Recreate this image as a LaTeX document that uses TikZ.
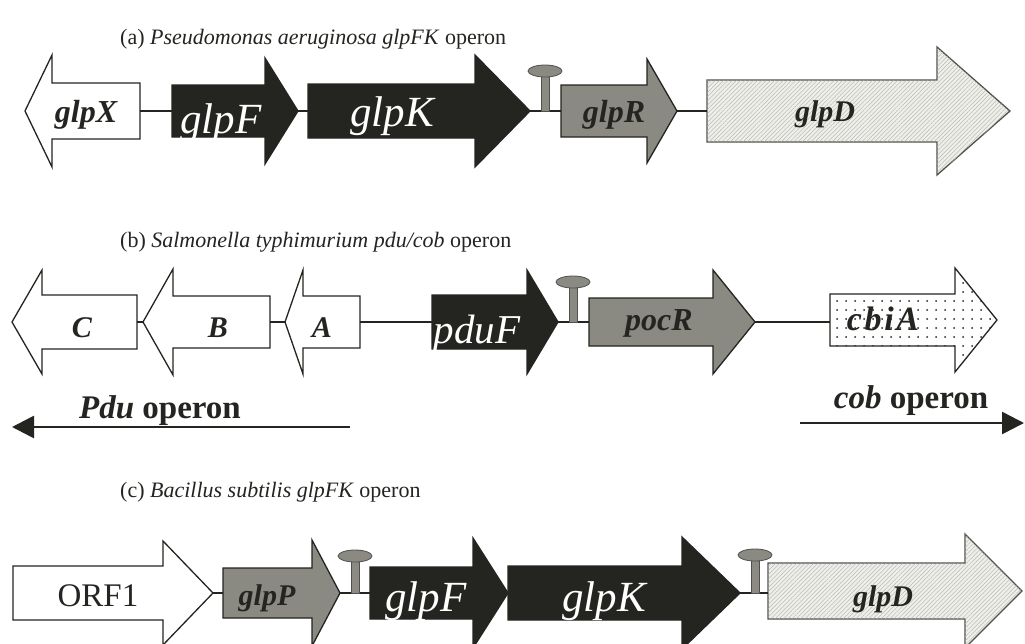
\documentclass[tikz,border=0pt]{standalone}
\usepackage{fontspec}
\setmainfont{Liberation Serif}
\usetikzlibrary{patterns.meta,arrows.meta}
\definecolor{ink}{RGB}{36,36,32}
\definecolor{midg}{RGB}{138,138,130}
\definecolor{lightg}{RGB}{238,238,234}
\definecolor{hatchc}{RGB}{175,175,168}
\newcommand\genearrow[8]{%
  \path[#2] (#3,#6-#7) -- (#4,#6-#7) -- (#4,#6-#8) -- (#5,#6) -- (#4,#6+#8) -- (#4,#6+#7) -- (#3,#6+#7) -- cycle;
  \coordinate (#1-tail) at (#3,#6);
  \coordinate (#1-tip) at (#5,#6);}
\newcommand\termin[4]{%
  \coordinate (#1) at (#2,#3);
  \path[termst] (#2-4,#3) rectangle (#2+4,#4);
  \path[termst] (#2,#4) ellipse [x radius=17pt, y radius=6pt];}
\tikzset{
  gene/.style={draw=ink, line width=1.3pt, line join=miter},
  whitegene/.style={gene, fill=white},
  blackgene/.style={gene, fill=ink},
  greygene/.style={gene, fill=midg},
  hatchgene/.style={gene, draw=ink!80, fill=lightg, postaction={pattern={Lines[angle=45,distance=3pt,line width=0.35pt]}, pattern color=hatchc}},
  dotgene/.style={gene, fill=white, postaction={pattern={Dots[distance=9pt,radius=1pt]}, pattern color=ink}},
  termst/.style={draw=ink!80, line width=0.8pt, fill=midg},
  conn/.style={draw=ink, line width=1.3pt},
  opar/.style={draw=ink, line width=2.6pt, -{Triangle[length=22pt,width=22pt]}},
  lab/.style={anchor=base, inner sep=0pt, text=ink, font=\fontsize{32}{34}\selectfont\bfseries\itshape},
  wlab/.style={anchor=base, inner sep=0pt, text=white, font=\fontsize{43}{45}\selectfont\itshape},
  ttl/.style={anchor=base west, inner sep=0pt, text=ink, font=\fontsize{22}{24}\selectfont},
  oplab/.style={anchor=base, inner sep=0pt, text=ink, font=\fontsize{33}{35}\selectfont\bfseries}
}
\begin{document}
\begin{tikzpicture}[x=1pt,y=-1pt]
\useasboundingbox[fill=white] (0,0) rectangle (1025,643);
\clip (0,0) rectangle (1025,643);
% ---------- (a)
\node[ttl] (ta) at (120,44) {(a) \textit{Pseudomonas aeruginosa glpFK} operon};
\genearrow{aX}{whitegene}{140}{52}{25}{111}{28}{56}
\genearrow{aF}{blackgene}{172}{265}{298}{111}{26}{53}
\genearrow{aK}{blackgene}{308}{475}{530}{111}{27}{56}
\genearrow{aR}{greygene}{561}{647}{677}{111}{26}{52}
\genearrow{aD}{hatchgene}{707}{937}{1010}{111}{31}{64}
\draw[conn] (aX-tail) -- (aF-tail);
\draw[conn] (aF-tip) -- (aK-tail);
\draw[conn] (aK-tip) -- (aR-tail);
\draw[conn] (aR-tip) -- (aD-tail);
\termin{aT}{545}{111}{71}
\node[lab] (laX) at (86,122) {glpX};
\node[wlab] (laF) at (221,133) {glpF};
\node[wlab] (laK) at (392,126) {glpK};
\node[lab] (laR) at (614,122) {glpR};
\node[lab, font=\fontsize{30}{32}\selectfont\bfseries\itshape] (laD) at (825,121) {glpD};
% ---------- (b)
\node[ttl] (tb) at (120,247) {(b) \textit{Salmonella typhimurium pdu/cob} operon};
\genearrow{bC}{whitegene}{137}{42}{12}{322}{27}{52}
\genearrow{bB}{whitegene}{270}{173}{143}{322}{26}{53}
\genearrow{bA}{whitegene}{360}{303}{285}{322}{26}{52}
\genearrow{bF}{blackgene}{432}{527}{558}{322}{27}{52}
\genearrow{bR}{greygene}{589}{713}{755}{322}{24}{52}
\genearrow{bI}{dotgene}{830}{955}{997}{320}{26}{52}
\draw[conn] (bC-tail) -- (bB-tip);
\draw[conn] (bB-tail) -- (bA-tip);
\draw[conn] (bA-tail) -- (bF-tail);
\draw[conn] (bF-tip) -- (bR-tail);
\draw[conn] (bR-tip) -- (bR-tip -| bI-tail);
\termin{bT}{573}{322}{282}
\node[lab, font=\fontsize{30}{32}\selectfont\bfseries\itshape] (lbC) at (82,337) {C};
\node[lab, font=\fontsize{30}{32}\selectfont\bfseries\itshape] (lbB) at (218,337) {B};
\node[lab, font=\fontsize{30}{32}\selectfont\bfseries\itshape] (lbA) at (322,337) {A};
\node[wlab, font=\fontsize{41}{43}\selectfont\itshape] (lbF) at (477,343) {pduF};
\node[lab] (lbR) at (659,330) {pocR};
\node[lab, font=\fontsize{34}{36}\selectfont\bfseries\itshape\addfontfeature{LetterSpace=8}] (lbI) at (883,330) {cbiA};
\coordinate (pduS) at (350,427);
\coordinate (pduE) at (12,427);
\draw[opar] (pduS) -- (pduE);
\node[oplab] (lpdu) at (160,418) {\textit{Pdu} operon};
\coordinate (cobS) at (800,423);
\coordinate (cobE) at (1024,423);
\draw[opar] (cobS) -- (cobE);
\node[oplab] (lcob) at (911,408) {\textit{cob} operon};
% ---------- (c)
\node[ttl] (tc) at (120,497) {(c) \textit{Bacillus subtilis glpFK} operon};
\genearrow{cO}{whitegene}{13}{163}{213}{593}{27}{52}
\genearrow{cP}{greygene}{223}{312}{340}{593}{25}{53}
\genearrow{cF}{blackgene}{370}{473}{508}{593}{26}{55}
\genearrow{cK}{blackgene}{508}{682}{740}{593}{27}{56}
\genearrow{cD}{hatchgene}{768}{965}{1022}{591}{28}{57}
\draw[conn] (cO-tip) -- (cP-tail);
\draw[conn] (cP-tip) -- (cF-tail);
\draw[conn] (cK-tip) -- (cK-tip -| cD-tail);
\termin{cT1}{355}{593}{556}
\termin{cT2}{755}{593}{555}
\node[lab, font=\fontsize{33}{35}\selectfont] (lcO) at (98,606) {ORF1};
\node[lab, font=\fontsize{30}{32}\selectfont\bfseries\itshape] (lcP) at (267,605) {glpP};
\node[wlab] (lcF) at (426,611) {glpF};
\node[wlab] (lcK) at (604,611) {glpK};
\node[lab, font=\fontsize{30}{32}\selectfont\bfseries\itshape] (lcD) at (883,606) {glpD};
\end{tikzpicture}
\end{document}
